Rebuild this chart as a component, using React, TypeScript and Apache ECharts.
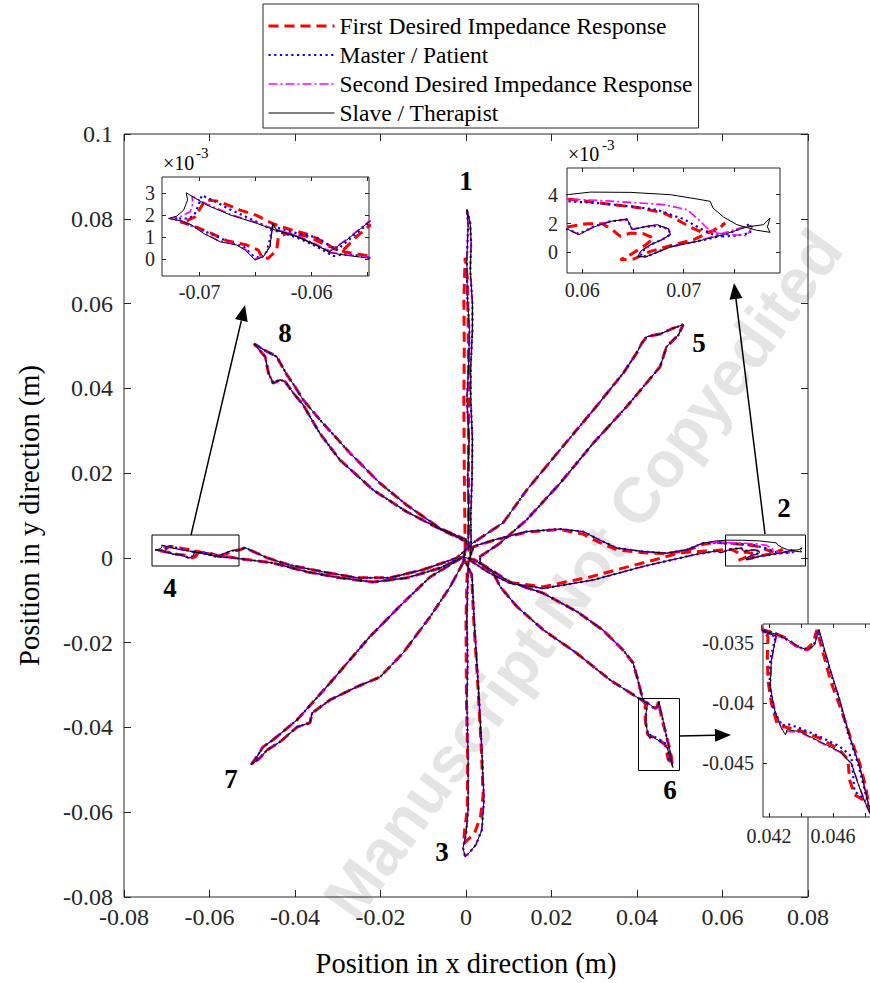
import React, { useEffect, useRef } from 'react';
import * as echarts from 'echarts';

const SERIF = '"Liberation Serif", "Times New Roman", serif';
const NAMES = [
  'First Desired Impedance Response',
  'Master / Patient',
  'Second Desired Impedance Response',
  'Slave / Therapist',
];

// ---------- trajectory data (metres) ----------
const arm1 = [
  [0.0005, 0.0019], [0.0006, 0.012], [0.0004, 0.0184], [0.0007, 0.028], [0.0002, 0.0373], [0.0006, 0.045],
  [0.0008, 0.0538], [0.0003, 0.062], [0.0002, 0.0703], [0.0005, 0.0786], [0.0002, 0.0822], [0.001, 0.079],
  [0.0012, 0.074], [0.001, 0.0679], [0.0015, 0.06], [0.0015, 0.0538], [0.0011, 0.045], [0.0011, 0.0373],
  [0.0015, 0.028], [0.0014, 0.0184], [0.0011, 0.01], [0.0012, 0.0031],
];
const arm1Red = [
  [-0.0002, 0.0019], [-0.0004, 0.02], [-0.0005, 0.0373], [-0.0004, 0.05], [-0.0005, 0.0609], [-0.0002, 0.0708],
  [0.0003, 0.066], [0.0005, 0.056], [0.0006, 0.045], [0.0006, 0.0373], [0.0006, 0.02], [0.0006, 0.0031],
];
const arm2Out = [
  [0.0009, -0.0005], [0.0048, -0.0032], [0.0103, -0.006], [0.0181, -0.0072], [0.0298, -0.0052],
  [0.0415, -0.002], [0.0532, 0.0007], [0.056, 0.0012],
];
const arm2Back = [
  [0.0555, 0.0035], [0.0516, 0.0019], [0.0469, 0.0011], [0.0415, 0.0015], [0.0353, 0.0023], [0.0313, 0.0042],
  [0.0274, 0.0062], [0.022, 0.0068], [0.0142, 0.0062], [0.0064, 0.0042], [0.0017, 0.0027],
];
const arm2OutRed = [
  [0.0009, -0.0005], [0.0048, -0.003], [0.0103, -0.0058], [0.0181, -0.0068], [0.029, -0.0045],
  [0.036, -0.0026], [0.044, -0.0005], [0.05, 0.0012], [0.056, 0.0016],
];
const arm2BackRed = [
  [0.0555, 0.0032], [0.0516, 0.0017], [0.0469, 0.001], [0.0415, 0.0012], [0.0353, 0.0019], [0.0313, 0.0036],
  [0.0274, 0.0056], [0.022, 0.0067], [0.0142, 0.0061], [0.0064, 0.0041], [0.0017, 0.0026],
];
const tip2Black = [
  [0.05852, 0.00162], [0.05967, 0.00123], [0.06115, 0.00176], [0.06279, 0.00215], [0.06443, 0.00231],
  [0.06492, 0.00157], [0.06607, 0.00176], [0.06738, 0.00192], [0.06852, 0.00162], [0.06869, 0.00123],
  [0.06787, 0.00088], [0.06672, 0.00053], [0.06574, 0.00007], [0.06548, -0.00028], [0.06623, -0.00032],
  [0.06869, 0.00037], [0.07131, 0.00076], [0.07393, 0.00123], [0.07623, 0.00176], [0.07787, 0.00192],
  [0.07852, 0.00238], [0.07826, 0.00176], [0.07852, 0.00139], [0.07721, 0.00153], [0.07525, 0.00192],
  [0.07393, 0.00245], [0.07289, 0.00308], [0.07262, 0.00354], [0.07131, 0.0037], [0.06869, 0.004],
  [0.06475, 0.00416], [0.06082, 0.00418], [0.05852, 0.004],
];
const tip2Blue = [
  [0.05852, 0.00162], [0.05967, 0.00127], [0.06115, 0.0018], [0.06279, 0.00215], [0.06443, 0.00227],
  [0.06492, 0.00162], [0.06607, 0.00176], [0.06738, 0.00185], [0.06852, 0.00162], [0.06869, 0.00123],
  [0.06787, 0.00088], [0.06672, 0.00053], [0.0659, 0.00007], [0.06574, -0.00023], [0.06639, -0.00028],
  [0.06869, 0.00042], [0.07131, 0.00076], [0.07393, 0.00116], [0.0759, 0.00176], [0.07662, 0.00199],
  [0.07656, 0.00134], [0.07525, 0.00116], [0.07393, 0.00111], [0.07295, 0.00123], [0.07197, 0.00153],
  [0.07098, 0.00192], [0.07, 0.00231], [0.06902, 0.00254], [0.06738, 0.00296], [0.06475, 0.00319],
  [0.06148, 0.00342], [0.05852, 0.00354],
];
const tip2Magenta = [
  [0.05852, 0.00162], [0.05967, 0.00125], [0.06115, 0.00178], [0.06279, 0.00215], [0.06443, 0.00229],
  [0.06492, 0.0016], [0.06607, 0.00176], [0.06738, 0.0019], [0.06852, 0.00162], [0.06869, 0.00123],
  [0.06787, 0.00088], [0.06672, 0.00053], [0.0658, 0.00007], [0.06561, -0.00025], [0.0663, -0.0003],
  [0.06869, 0.00039], [0.07131, 0.00076], [0.07393, 0.00134], [0.0759, 0.00176], [0.07682, 0.00185],
  [0.07623, 0.00116], [0.07459, 0.00123], [0.07328, 0.00134], [0.0723, 0.00169], [0.07148, 0.00227],
  [0.07033, 0.00296], [0.06803, 0.00331], [0.06475, 0.00347], [0.06148, 0.00361], [0.05852, 0.0037],
];
const tip2Red = [
  [0.05852, 0.00176], [0.06049, 0.00199], [0.06197, 0.00199], [0.06295, 0.00157], [0.06377, 0.00111],
  [0.06475, 0.00134], [0.06607, 0.00129], [0.06705, 0.00099], [0.06607, 0.00042], [0.06475, -0.00016],
  [0.06377, -0.00051], [0.06508, -0.00046], [0.06672, 0.00007], [0.06869, 0.00046], [0.07098, 0.00088],
  [0.07295, 0.00153], [0.0741, 0.00203], [0.07328, 0.00153], [0.07197, 0.00134], [0.07066, 0.00176],
  [0.06934, 0.00227], [0.06803, 0.00273], [0.06574, 0.00308], [0.06311, 0.00331], [0.06049, 0.00354],
  [0.05852, 0.0037],
];
const arm3 = [
  [0.0005, -0.0017], [0.0002, -0.0146], [0.0004, -0.025], [0.0002, -0.0335], [0.0005, -0.0477],
  [0.0005, -0.0594], [0.0, -0.0653], [-0.0007, -0.0684], [-0.0002, -0.0705], [0.0009, -0.0694],
  [0.0023, -0.0677], [0.0037, -0.0642], [0.0042, -0.0571], [0.0037, -0.0453], [0.0028, -0.0288],
  [0.0019, -0.0146], [0.0014, -0.004],
];
const arm3Red = [
  [0.0003, -0.0017], [0.0, -0.0146], [0.0001, -0.0335], [0.0004, -0.0477], [0.0003, -0.0594],
  [-0.0003, -0.064], [-0.0006, -0.0675], [0.0004, -0.0665], [0.002, -0.065], [0.0034, -0.061],
  [0.004, -0.056], [0.0036, -0.0453], [0.0027, -0.0288], [0.0018, -0.0146], [0.0013, -0.004],
];
const arm4Out = [
  [-0.0007, 0.0002], [-0.0061, -0.0024], [-0.0138, -0.0047], [-0.0218, -0.0057], [-0.0295, -0.0047],
  [-0.0372, -0.0033], [-0.0451, -0.0012], [-0.0529, -0.0002],
];
const arm4Back = [
  [-0.0529, 0.0019], [-0.0517, 0.0024], [-0.0465, 0.0], [-0.0412, -0.0017], [-0.0334, -0.0033],
  [-0.0255, -0.0047], [-0.0178, -0.0047], [-0.0101, -0.0028], [-0.0021, 0.0],
];
const tip4Black = [
  [-0.05487, 0.00005], [-0.05688, 0.00018], [-0.05837, 0.0003], [-0.05955, 0.00065], [-0.06134, 0.00106],
  [-0.06341, 0.00136], [-0.0649, 0.00164], [-0.06727, 0.00202], [-0.06935, 0.00247], [-0.07119, 0.00303],
  [-0.07107, 0.0027], [-0.07142, 0.00224], [-0.07202, 0.00197], [-0.07276, 0.00186], [-0.07172, 0.00176],
  [-0.07068, 0.00156], [-0.06964, 0.00118], [-0.06816, 0.0008], [-0.06668, 0.00065], [-0.06593, 0.00042],
  [-0.06504, -0.00003], [-0.0643, 0.00012], [-0.06371, 0.00058], [-0.06347, 0.00164], [-0.06312, 0.00133],
  [-0.06134, 0.00103], [-0.05837, 0.00035], [-0.05688, 0.00088], [-0.05487, 0.00171],
];
const tip4Blue = [
  [-0.05487, 0.00009], [-0.05688, 0.00024], [-0.05807, 0.00015], [-0.05955, 0.00058], [-0.06134, 0.001],
  [-0.06341, 0.00133], [-0.0649, 0.00171], [-0.06727, 0.00227], [-0.06875, 0.00267], [-0.06979, 0.00292],
  [-0.07009, 0.00247], [-0.07047, 0.00202], [-0.07098, 0.00186], [-0.07217, 0.00186], [-0.07068, 0.00152],
  [-0.06875, 0.00111], [-0.06727, 0.00076], [-0.06608, 0.00058], [-0.06519, 0.00015], [-0.06454, 0.00005],
  [-0.06401, 0.00035], [-0.06371, 0.00091], [-0.06353, 0.00152], [-0.06193, 0.00126], [-0.05955, 0.001],
  [-0.05777, 0.00042], [-0.05599, 0.00118], [-0.05487, 0.00167],
];
const tip4Magenta = [
  [-0.05487, 0.00009], [-0.05688, 0.00021], [-0.05837, 0.00033], [-0.05955, 0.00068], [-0.06134, 0.00109],
  [-0.06341, 0.00139], [-0.0649, 0.00167], [-0.06727, 0.00206], [-0.06935, 0.00252], [-0.07068, 0.00288],
  [-0.07059, 0.00255], [-0.07083, 0.00217], [-0.07172, 0.00194], [-0.07261, 0.00186], [-0.07142, 0.00171],
  [-0.07024, 0.00141], [-0.06846, 0.00088], [-0.06668, 0.00068], [-0.06593, 0.00045], [-0.06504, 0.0],
  [-0.0643, 0.00015], [-0.06371, 0.00061], [-0.06347, 0.00161], [-0.06312, 0.00136], [-0.06134, 0.00106],
  [-0.05837, 0.00038], [-0.05688, 0.00091], [-0.05487, 0.00174],
];
const tip4Red = [
  [-0.05487, 0.00015], [-0.05659, 0.0003], [-0.05777, 0.00042], [-0.05896, 0.0008], [-0.06015, 0.00111],
  [-0.06193, 0.00136], [-0.06341, 0.00161], [-0.0649, 0.002], [-0.06638, 0.00224], [-0.06831, 0.00265],
  [-0.0695, 0.0027], [-0.07, 0.00227], [-0.07039, 0.00194], [-0.07113, 0.00176], [-0.07172, 0.00171],
  [-0.07053, 0.00152], [-0.06905, 0.00121], [-0.06757, 0.00085], [-0.06579, 0.00065], [-0.06475, 0.00042],
  [-0.06445, 0.00009], [-0.06386, 0.00005], [-0.06312, 0.00042], [-0.06297, 0.001], [-0.06223, 0.00118],
  [-0.06045, 0.00106], [-0.05837, 0.00058], [-0.05718, 0.00042], [-0.05599, 0.00103], [-0.05487, 0.00152],
];
const arm5Out = [
  [0.0016, 0.0035], [0.0087, 0.0083], [0.0142, 0.016], [0.022, 0.0255], [0.0298, 0.0349], [0.0368, 0.0436],
  [0.0399, 0.0483], [0.0411, 0.0506], [0.0423, 0.0522], [0.0454, 0.0528], [0.0485, 0.0542], [0.0508, 0.055],
];
const arm5Back = [
  [0.0497, 0.0526], [0.0469, 0.0498], [0.0454, 0.0451], [0.0376, 0.0357], [0.0298, 0.0271], [0.022, 0.0176],
  [0.0142, 0.009], [0.008, 0.0035], [0.0033, 0.0003],
];
const arm6Out = [
  [0.0033, -0.0012], [0.0103, -0.0057], [0.018, -0.0083], [0.026, -0.0127], [0.032, -0.017], [0.0367, -0.0217],
  [0.0391, -0.0248], [0.0402, -0.0288], [0.0412, -0.0328],
];
const arm6Back = [
  [0.0337, -0.0288], [0.0259, -0.0225], [0.0181, -0.017], [0.0119, -0.0115], [0.008, -0.0068],
  [0.0064, -0.0036], [0.0021, -0.0005],
];
const loop6Black = [
  [0.04163, -0.03403], [0.04246, -0.03439], [0.04215, -0.03639], [0.04208, -0.03861], [0.04235, -0.04056],
  [0.04277, -0.04208], [0.04304, -0.04264], [0.04313, -0.04222], [0.04392, -0.04236], [0.04517, -0.04319],
  [0.04642, -0.04403], [0.04715, -0.045], [0.04756, -0.04667], [0.04798, -0.04819], [0.0484, -0.04944],
  [0.04808, -0.04764], [0.04767, -0.04528], [0.04704, -0.04278], [0.04642, -0.03972], [0.0459, -0.0375],
  [0.04548, -0.03556], [0.04513, -0.03383], [0.04485, -0.03514], [0.04444, -0.03556], [0.04381, -0.03528],
  [0.04319, -0.03472], [0.04246, -0.03425], [0.04163, -0.03394],
];
const loop6Blue = [
  [0.04163, -0.03403], [0.04242, -0.03444], [0.04208, -0.03639], [0.04204, -0.03861], [0.04229, -0.04056],
  [0.04283, -0.04189], [0.04313, -0.04172], [0.04392, -0.04208], [0.04517, -0.04278], [0.04642, -0.04361],
  [0.04715, -0.04444], [0.04725, -0.04583], [0.04735, -0.04736], [0.04777, -0.04778], [0.04819, -0.04847],
  [0.04833, -0.04917], [0.04798, -0.04722], [0.04756, -0.045], [0.04694, -0.0425], [0.04638, -0.03958],
  [0.04583, -0.03736], [0.04542, -0.0355], [0.04508, -0.03394], [0.04479, -0.03522], [0.04438, -0.03556],
  [0.04375, -0.03528], [0.04313, -0.03467], [0.04242, -0.03417], [0.04163, -0.03389],
];
const loop6Magenta = [
  [0.04163, -0.03406], [0.04246, -0.03444], [0.04217, -0.03644], [0.0421, -0.03867], [0.04238, -0.04061],
  [0.04279, -0.04211], [0.04308, -0.04236], [0.04392, -0.04242], [0.04517, -0.04325], [0.04642, -0.04408],
  [0.04717, -0.04506], [0.04758, -0.04672], [0.04802, -0.04825], [0.04835, -0.04931], [0.0481, -0.04769],
  [0.04769, -0.04533], [0.04706, -0.04283], [0.04644, -0.03978], [0.04592, -0.03756], [0.0455, -0.03561],
  [0.0451, -0.03389], [0.04483, -0.03519], [0.04442, -0.03561], [0.04379, -0.03533], [0.04317, -0.03478],
  [0.04246, -0.03431], [0.04163, -0.034],
];
const loop6Red = [
  [0.04163, -0.03397], [0.04194, -0.03444], [0.0419, -0.03611], [0.04194, -0.03806], [0.04215, -0.04],
  [0.0425, -0.04167], [0.04288, -0.04194], [0.04392, -0.04228], [0.04517, -0.04292], [0.04642, -0.04389],
  [0.04694, -0.04472], [0.04704, -0.04639], [0.04735, -0.04764], [0.04788, -0.04806], [0.04829, -0.04889],
  [0.04804, -0.04694], [0.04767, -0.045], [0.04715, -0.04306], [0.04652, -0.04056], [0.0459, -0.03833],
  [0.04542, -0.03597], [0.045, -0.03389], [0.04475, -0.035], [0.04433, -0.0355], [0.04371, -0.03522],
  [0.04298, -0.0345], [0.04225, -0.03411], [0.04163, -0.03389],
];
const arm7Out = [
  [-0.0007, 0.0002], [-0.0084, -0.0045], [-0.0147, -0.0106], [-0.0225, -0.0186], [-0.0318, -0.0295],
  [-0.0395, -0.0382], [-0.0451, -0.0429], [-0.0475, -0.0446], [-0.0489, -0.0469], [-0.0503, -0.0488],
];
const arm7Back = [
  [-0.0482, -0.0472], [-0.0465, -0.0453], [-0.0435, -0.0434], [-0.0395, -0.0399], [-0.0365, -0.0389],
  [-0.036, -0.0366], [-0.0318, -0.0335], [-0.0255, -0.0304], [-0.0201, -0.0281], [-0.0147, -0.0224],
  [-0.0084, -0.0139], [-0.0037, -0.0068], [-0.0007, -0.0012],
];
const arm8Out = [
  [0.0002, 0.0042], [-0.0061, 0.007], [-0.0139, 0.0125], [-0.0201, 0.0176], [-0.0271, 0.0247],
  [-0.0342, 0.0326], [-0.0381, 0.0373], [-0.04, 0.0404], [-0.0419, 0.0432], [-0.0443, 0.0475],
  [-0.0466, 0.0487], [-0.0496, 0.0505],
];
const arm8Back = [
  [-0.047, 0.0475], [-0.0462, 0.0436], [-0.0451, 0.0412], [-0.0435, 0.042], [-0.0423, 0.0416],
  [-0.0404, 0.0389], [-0.0381, 0.0361], [-0.0342, 0.0294], [-0.0295, 0.0231], [-0.0217, 0.016],
  [-0.0139, 0.0109], [-0.0061, 0.0068], [0.0002, 0.0038],
];

// tick values
const insetATicksX = [-0.07, -0.065, -0.06, -0.055];
const insetALabelsX = [-0.07, -0.06];
const insetATicksY = [0, 0.001, 0.002, 0.003];
const insetBTicksX = [0.06, 0.065, 0.07, 0.075];
const insetBLabelsX = [0.06, 0.07];
const insetBTicksY = [0, 0.002, 0.004];
const insetCTicksX = [0.042, 0.044, 0.046, 0.048];
const insetCLabelsX = [0.042, 0.046];
const insetCTicksY = [-0.045, -0.04, -0.035];

const pathFor = (k: string) => {
  const red = k === 'red';
  const tip2 = { red: tip2Red, blue: tip2Blue, magenta: tip2Magenta, black: tip2Black }[k]!;
  const tip4 = { red: tip4Red, blue: tip4Blue, magenta: tip4Magenta, black: tip4Black }[k]!;
  const loop6 = { red: loop6Red, blue: loop6Blue, magenta: loop6Magenta, black: loop6Black }[k]!;
  return [
    ...(red ? arm1Red : arm1),
    ...(red ? arm2OutRed : arm2Out), ...tip2, ...(red ? arm2BackRed : arm2Back),
    ...(red ? arm3Red : arm3),
    ...arm4Out, ...tip4, ...arm4Back,
    ...arm5Out, ...arm5Back,
    ...arm6Out, ...loop6, ...arm6Back,
    ...arm7Out, ...arm7Back,
    ...arm8Out, ...arm8Back,
  ];
};

const STYLES: Record<string, any> = {
  red: { name: NAMES[0], color: '#ff0000', width: 3, type: [10, 6] },
  blue: { name: NAMES[1], color: '#0000ff', width: 2.2, type: [2.2, 3.5] },
  magenta: { name: NAMES[2], color: '#ff00ff', width: 1.6, type: [9, 3, 2, 3] },
  black: { name: NAMES[3], color: '#000000', width: 1, type: 'solid' },
};
const ORDER = ['red', 'blue', 'magenta', 'black'];

const fmtMain = (v: number) => String(Math.round(v * 100) / 100);

function mkAxis(dim: 'x' | 'y', gridIndex: number, min: number, max: number, opts: any) {
  const primary = opts.primary;
  const base: any = {
    type: 'value', gridIndex, min, max,
    position: dim === 'x' ? (primary ? 'bottom' : 'top') : (primary ? 'left' : 'right'),
    axisLine: { show: false, onZero: false },
    splitLine: { show: false },
    axisTick: { show: true, inside: true, length: opts.tickLen, lineStyle: { color: '#262626', width: 1 } },
    axisLabel: {
      show: !!primary, fontFamily: SERIF, fontSize: opts.fontSize, color: '#262626', margin: opts.margin,
      formatter: opts.formatter,
    },
    z: opts.z,
  };
  if (opts.interval) base.interval = opts.interval;
  if (opts.ticks) base.axisTick.customValues = opts.ticks;
  if (opts.labels && primary) base.axisLabel.customValues = opts.labels;
  if (opts.name && primary) {
    base.name = opts.name;
    base.nameLocation = 'middle';
    base.nameGap = opts.nameGap;
    base.nameRotate = dim === 'y' ? 90 : 0;
    base.nameTextStyle = { fontFamily: SERIF, fontSize: 28.5, color: '#000' };
  }
  return base;
}

function arrow(x1: number, y1: number, x2: number, y2: number) {
  const dx = x2 - x1, dy = y2 - y1;
  const L = Math.hypot(dx, dy);
  const ux = dx / L, uy = dy / L;
  const hl = 16, hw = 6.5;
  const bx = x2 - ux * hl, by = y2 - uy * hl;
  return [
    { type: 'line', shape: { x1, y1, x2: bx, y2: by }, style: { stroke: '#000', lineWidth: 1.5 }, z: 4, silent: true },
    {
      type: 'polygon',
      shape: { points: [[x2, y2], [bx - uy * hw, by + ux * hw], [bx + uy * hw, by - ux * hw]] },
      style: { fill: '#000' }, z: 4, silent: true,
    },
  ];
}

function label(text: string, x: number, y: number, font: string, z = 4, align = 'center') {
  return {
    type: 'text', x, y, z, silent: true,
    style: { text, font, fill: '#000', align, verticalAlign: 'middle', textAlign: align, textVerticalAlign: 'middle' },
  };
}

export default function App() {
  const ref = useRef<HTMLDivElement>(null);
  useEffect(() => {
    document.body.style.margin = '0';
    const chart = echarts.init(ref.current!, null, { renderer: 'svg' });

    const gridBase = { show: true, borderColor: '#262626', borderWidth: 1, outerBoundsMode: 'none', containLabel: false };
    const grids = [
      { ...gridBase, left: 124, top: 134, width: 684, height: 763, backgroundColor: 'transparent', z: 2 },
      { ...gridBase, left: 162, top: 177, width: 207, height: 99, backgroundColor: '#fff', z: 5 },
      { ...gridBase, left: 567, top: 168, width: 213, height: 105, backgroundColor: '#fff', z: 5 },
      { ...gridBase, left: 763, top: 624, width: 120, height: 193, backgroundColor: '#fff', z: 5 },
    ];

    const xAxes = [
      mkAxis('x', 0, -0.08, 0.08, { primary: true, interval: 0.02, tickLen: 7, fontSize: 24, margin: 8, formatter: fmtMain, name: 'Position in x direction (m)', nameGap: 52, z: 3 }),
      mkAxis('x', 0, -0.08, 0.08, { primary: false, interval: 0.02, tickLen: 7, z: 3 }),
      mkAxis('x', 1, -0.07335, -0.05488, { primary: true, ticks: insetATicksX, labels: insetALabelsX, tickLen: 4, fontSize: 20, margin: 6, formatter: (v: number) => v.toFixed(2), z: 7 }),
      mkAxis('x', 1, -0.07335, -0.05488, { primary: false, ticks: insetATicksX, tickLen: 4, z: 7 }),
      mkAxis('x', 2, 0.0585, 0.0795, { primary: true, ticks: insetBTicksX, labels: insetBLabelsX, tickLen: 4, fontSize: 20, margin: 7, formatter: (v: number) => v.toFixed(2), z: 7 }),
      mkAxis('x', 2, 0.0585, 0.0795, { primary: false, ticks: insetBTicksX, tickLen: 4, z: 7 }),
      mkAxis('x', 3, 0.04163, 0.04913, { primary: true, ticks: insetCTicksX, labels: insetCLabelsX, tickLen: 4, fontSize: 20, margin: 9, formatter: (v: number) => v.toFixed(3), z: 7 }),
      mkAxis('x', 3, 0.04163, 0.04913, { primary: false, ticks: insetCTicksX, tickLen: 4, z: 7 }),
    ];
    const yAxes = [
      mkAxis('y', 0, -0.08, 0.1, { primary: true, interval: 0.02, tickLen: 7, fontSize: 24, margin: 11, formatter: fmtMain, name: 'Position in y direction (m)', nameGap: 80, z: 3 }),
      mkAxis('y', 0, -0.08, 0.1, { primary: false, interval: 0.02, tickLen: 7, z: 3 }),
      mkAxis('y', 1, -0.00076, 0.00375, { primary: true, ticks: insetATicksY, labels: insetATicksY, tickLen: 4, fontSize: 20, margin: 7, formatter: (v: number) => String(Math.round(v * 1000)), z: 7 }),
      mkAxis('y', 1, -0.00076, 0.00375, { primary: false, ticks: insetATicksY, tickLen: 4, z: 7 }),
      mkAxis('y', 2, -0.00143, 0.00585, { primary: true, ticks: insetBTicksY, labels: insetBTicksY, tickLen: 4, fontSize: 20, margin: 9, formatter: (v: number) => String(Math.round(v * 1000)), z: 7 }),
      mkAxis('y', 2, -0.00143, 0.00585, { primary: false, ticks: insetBTicksY, tickLen: 4, z: 7 }),
      mkAxis('y', 3, -0.0495, -0.03339, { primary: true, ticks: insetCTicksY, labels: insetCTicksY, tickLen: 4, fontSize: 20, margin: 9, formatter: (v: number) => String(Math.round(v * 1000) / 1000), z: 7 }),
      mkAxis('y', 3, -0.0495, -0.03339, { primary: false, ticks: insetCTicksY, tickLen: 4, z: 7 }),
    ];

    const series: any[] = [];
    [0, 1, 2, 3].forEach((g) => {
      ORDER.forEach((k) => {
        const s = STYLES[k];
        series.push({
          type: 'line', name: s.name, data: pathFor(k),
          xAxisIndex: g * 2, yAxisIndex: g * 2,
          symbol: 'none', showSymbol: false, clip: true, silent: true,
          emphasis: { disabled: true },
          lineStyle: { color: s.color, width: s.width, type: s.type, cap: 'butt' },
          itemStyle: { color: s.color },
          z: g === 0 ? 2 : 6,
        });
      });
    });

    const graphics: any[] = [
      {
        type: 'text', x: 583, y: 574, rotation: (54 * Math.PI) / 180, z: 1, silent: true,
        style: { text: 'Manuscript Not Copyedited', font: 'bold 64px "Liberation Sans"', fill: '#e4e4e4', align: 'center', verticalAlign: 'middle', textAlign: 'center', textVerticalAlign: 'middle' },
      },
      { type: 'rect', shape: { x: 152, y: 535, width: 87, height: 31 }, style: { fill: 'none', stroke: '#000', lineWidth: 1 }, z: 4, silent: true },
      { type: 'rect', shape: { x: 725.5, y: 535, width: 80, height: 31 }, style: { fill: 'none', stroke: '#000', lineWidth: 1 }, z: 4, silent: true },
      { type: 'rect', shape: { x: 638.5, y: 698.5, width: 41, height: 72 }, style: { fill: 'none', stroke: '#000', lineWidth: 1 }, z: 4, silent: true },
      ...arrow(191, 535, 245, 305),
      ...arrow(765, 534, 734, 283),
      ...arrow(679, 736, 731, 735),
      label('1', 466, 181, `bold 27px ${SERIF}`),
      label('2', 784, 508, `bold 27px ${SERIF}`),
      label('3', 442, 852, `bold 27px ${SERIF}`),
      label('4', 170, 588, `bold 27px ${SERIF}`),
      label('5', 699, 343, `bold 27px ${SERIF}`),
      label('6', 670, 790, `bold 27px ${SERIF}`),
      label('7', 231, 779, `bold 27px ${SERIF}`),
      label('8', 285, 333, `bold 27px ${SERIF}`),
      label('×10', 163, 163, `20px ${SERIF}`, 8, 'left'),
      label('-3', 196, 153, `15px ${SERIF}`, 8, 'left'),
      label('×10', 568, 154, `20px ${SERIF}`, 8, 'left'),
      label('-3', 602, 145, `15px ${SERIF}`, 8, 'left'),
    ];

    chart.setOption({
      animation: false,
      backgroundColor: '#fff',
      grid: grids,
      xAxis: xAxes,
      yAxis: yAxes,
      legend: {
        orient: 'vertical', left: 263, top: 4,
        padding: [10, 6, 3, 4], itemGap: 5, itemWidth: 66, itemHeight: 14,
        backgroundColor: '#fff', borderColor: '#262626', borderWidth: 1, borderRadius: 0,
        data: NAMES,
        selectedMode: false,
        itemStyle: { opacity: 0 },
        lineStyle: { width: 'inherit' },
        textStyle: { fontFamily: SERIF, fontSize: 23.5, color: '#000', lineHeight: 24 },
        z: 10,
      },
      series,
      graphic: { elements: graphics },
    });
    return () => chart.dispose();
  }, []);
  return <div ref={ref} style={{ width: 870, height: 983 }} />;
}
